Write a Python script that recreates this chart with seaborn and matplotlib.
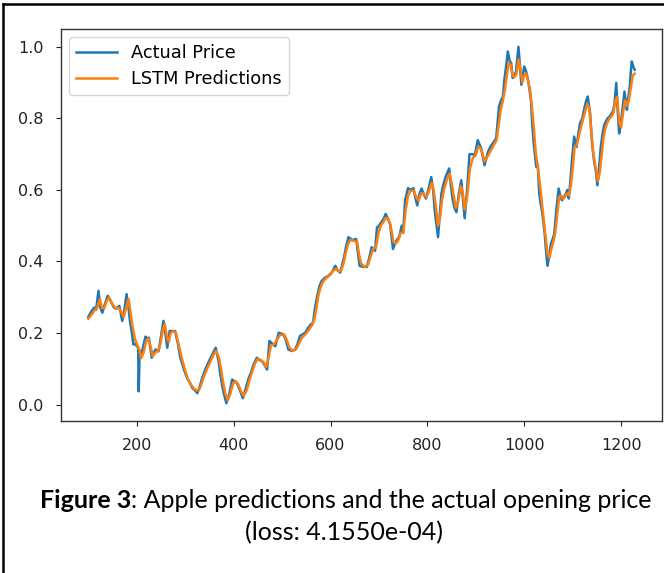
import matplotlib
matplotlib.use("Agg")
import matplotlib.pyplot as plt
import seaborn as sns
from matplotlib.lines import Line2D

# ---- data ----
actual_x = [100, 106, 112, 116, 121, 125, 129, 134, 140, 146, 153, 158, 164, 170, 174, 179, 183, 186, 190, 193,
            197, 200, 203, 204, 206, 208, 213, 218, 222, 225, 231, 235, 239, 245, 250, 255, 259, 263, 268, 274,
            279, 285, 290, 297, 304, 310, 315, 320, 325, 330, 335, 342, 349, 356, 363, 369, 372, 376, 380, 385,
            391, 397, 402, 407, 413, 419, 425, 431, 436, 441, 448, 453, 459, 464, 469, 474, 480, 486, 493, 503,
            508, 513, 520, 527, 532, 537, 548, 554, 560, 564, 568, 572, 577, 582, 589, 596, 603, 610, 615, 620,
            624, 628, 632, 637, 645, 653, 657, 660, 667, 675, 680, 685, 692, 696, 700, 706, 710, 714, 718, 723,
            729, 733, 737, 742, 747, 750, 754, 760, 766, 771, 775, 779, 784, 788, 792, 797, 802, 808, 812, 815,
            819, 822, 826, 829, 834, 838, 845, 848, 852, 856, 860, 865, 870, 873, 877, 882, 887, 893, 898, 904,
            911, 918, 925, 930, 935, 942, 945, 948, 952, 956, 959, 963, 966, 970, 973, 976, 980, 983, 988, 991,
            994, 997, 1000, 1004, 1007, 1011, 1014, 1016, 1019, 1022, 1025, 1028, 1031, 1034, 1037, 1042, 1045,
            1048, 1052, 1055, 1058, 1062, 1066, 1071, 1075, 1078, 1082, 1086, 1089, 1092, 1095, 1098, 1103, 1108,
            1112, 1115, 1120, 1124, 1128, 1131, 1136, 1140, 1144, 1148, 1151, 1155, 1158, 1162, 1165, 1168, 1172,
            1176, 1179, 1183, 1186, 1190, 1193, 1196, 1199, 1201, 1205, 1207, 1210, 1212, 1215, 1218, 1220, 1222,
            1225, 1228]
actual_price = [0.245, 0.26, 0.271, 0.265, 0.318, 0.27, 0.257, 0.28, 0.304, 0.29, 0.271, 0.268, 0.276, 0.234, 0.26,
                0.309, 0.27, 0.234, 0.2, 0.168, 0.17, 0.163, 0.16, 0.037, 0.15, 0.131, 0.16, 0.19, 0.185, 0.187,
                0.131, 0.145, 0.154, 0.149, 0.19, 0.234, 0.2, 0.159, 0.206, 0.205, 0.206, 0.17, 0.131, 0.1, 0.074,
                0.06, 0.046, 0.04, 0.032, 0.05, 0.074, 0.1, 0.121, 0.14, 0.159, 0.121, 0.09, 0.056, 0.03, 0.004,
                0.03, 0.07, 0.065, 0.06, 0.04, 0.018, 0.045, 0.074, 0.09, 0.112, 0.131, 0.125, 0.121, 0.11, 0.098,
                0.178, 0.17, 0.163, 0.201, 0.196, 0.18, 0.154, 0.15, 0.154, 0.17, 0.192, 0.201, 0.215, 0.225, 0.229,
                0.27, 0.299, 0.33, 0.346, 0.355, 0.36, 0.37, 0.388, 0.375, 0.369, 0.39, 0.412, 0.44, 0.468, 0.46,
                0.463, 0.42, 0.388, 0.385, 0.385, 0.41, 0.44, 0.43, 0.495, 0.5, 0.512, 0.52, 0.533, 0.52, 0.505,
                0.435, 0.45, 0.46, 0.47, 0.5, 0.48, 0.571, 0.605, 0.6, 0.605, 0.58, 0.557, 0.59, 0.604, 0.59, 0.576,
                0.6, 0.636, 0.6, 0.545, 0.5, 0.468, 0.54, 0.59, 0.62, 0.638, 0.66, 0.62, 0.575, 0.55, 0.538, 0.59,
                0.627, 0.58, 0.521, 0.6, 0.7, 0.7, 0.697, 0.739, 0.716, 0.669, 0.706, 0.72, 0.73, 0.744, 0.79, 0.833,
                0.85, 0.861, 0.908, 0.95, 0.987, 0.96, 0.955, 0.913, 0.92, 0.931, 1.0, 0.95, 0.894, 0.92, 0.945,
                0.93, 0.913, 0.88, 0.847, 0.795, 0.739, 0.7, 0.664, 0.67, 0.59, 0.56, 0.538, 0.482, 0.43, 0.388,
                0.42, 0.449, 0.46, 0.477, 0.54, 0.604, 0.58, 0.571, 0.58, 0.59, 0.6, 0.576, 0.62, 0.674, 0.749, 0.72,
                0.76, 0.786, 0.8, 0.828, 0.85, 0.861, 0.814, 0.73, 0.683, 0.65, 0.613, 0.67, 0.72, 0.76, 0.781, 0.79,
                0.8, 0.805, 0.81, 0.82, 0.838, 0.899, 0.82, 0.758, 0.78, 0.805, 0.85, 0.875, 0.84, 0.824, 0.86,
                0.889, 0.93, 0.959, 0.945, 0.936]

pred_x = [100, 106, 112, 118, 124, 128, 133, 138, 143, 150, 156, 162, 168, 173, 178, 183, 187, 191, 196, 200,
          205, 209, 214, 219, 224, 229, 233, 238, 244, 249, 254, 258, 262, 266, 270, 276, 281, 287, 293, 300,
          306, 312, 318, 323, 328, 333, 338, 345, 352, 358, 364, 370, 374, 378, 383, 388, 393, 399, 405, 410,
          416, 421, 427, 433, 439, 444, 450, 456, 462, 467, 472, 477, 483, 489, 496, 505, 510, 515, 522, 529,
          534, 540, 549, 556, 562, 567, 571, 575, 580, 585, 592, 599, 606, 612, 617, 622, 627, 631, 636, 641,
          648, 655, 659, 663, 670, 677, 683, 688, 694, 699, 704, 709, 714, 719, 724, 730, 735, 740, 745, 750,
          755, 760, 766, 772, 777, 782, 787, 792, 798, 803, 809, 813, 817, 822, 826, 830, 835, 840, 846, 850,
          854, 859, 864, 869, 873, 877, 882, 888, 894, 899, 905, 911, 918, 925, 931, 937, 943, 947, 951, 956,
          960, 964, 968, 972, 976, 980, 984, 988, 992, 996, 1000, 1004, 1008, 1012, 1016, 1020, 1024, 1028,
          1032, 1036, 1040, 1044, 1048, 1052, 1056, 1060, 1064, 1068, 1072, 1076, 1080, 1084, 1088, 1092, 1096,
          1100, 1104, 1108, 1112, 1116, 1121, 1125, 1130, 1134, 1138, 1142, 1147, 1152, 1156, 1160, 1164, 1168,
          1172, 1176, 1180, 1184, 1188, 1192, 1196, 1200, 1204, 1208, 1212, 1216, 1220, 1224, 1228]
lstm_pred = [0.24, 0.25, 0.262, 0.27, 0.295, 0.27, 0.27, 0.29, 0.3, 0.28, 0.27, 0.27, 0.26, 0.245, 0.27, 0.295,
             0.26, 0.22, 0.185, 0.17, 0.155, 0.13, 0.145, 0.175, 0.185, 0.16, 0.135, 0.145, 0.15, 0.17, 0.21, 0.225,
             0.19, 0.175, 0.2, 0.205, 0.2, 0.165, 0.13, 0.095, 0.07, 0.055, 0.045, 0.04, 0.04, 0.055, 0.075, 0.1,
             0.12, 0.138, 0.15, 0.13, 0.1, 0.065, 0.03, 0.012, 0.03, 0.06, 0.065, 0.055, 0.035, 0.025, 0.04, 0.07,
             0.095, 0.115, 0.128, 0.125, 0.118, 0.105, 0.13, 0.165, 0.168, 0.18, 0.195, 0.195, 0.18, 0.16, 0.15,
             0.155, 0.168, 0.185, 0.198, 0.21, 0.222, 0.24, 0.27, 0.305, 0.33, 0.345, 0.355, 0.362, 0.375, 0.38,
             0.372, 0.375, 0.395, 0.42, 0.448, 0.46, 0.458, 0.455, 0.42, 0.395, 0.385, 0.39, 0.415, 0.435, 0.44,
             0.48, 0.5, 0.51, 0.522, 0.52, 0.5, 0.455, 0.45, 0.46, 0.48, 0.48, 0.54, 0.585, 0.598, 0.598, 0.58,
             0.57, 0.59, 0.59, 0.58, 0.595, 0.62, 0.6, 0.56, 0.5, 0.52, 0.57, 0.605, 0.628, 0.645, 0.62, 0.585,
             0.55, 0.57, 0.61, 0.595, 0.545, 0.58, 0.66, 0.69, 0.695, 0.72, 0.715, 0.68, 0.695, 0.71, 0.725, 0.74,
             0.78, 0.82, 0.85, 0.88, 0.92, 0.955, 0.95, 0.92, 0.915, 0.925, 0.965, 0.94, 0.9, 0.92, 0.925, 0.905,
             0.88, 0.83, 0.77, 0.7, 0.665, 0.62, 0.57, 0.52, 0.47, 0.42, 0.41, 0.435, 0.455, 0.48, 0.53, 0.58,
             0.585, 0.575, 0.58, 0.59, 0.585, 0.61, 0.66, 0.72, 0.725, 0.745, 0.77, 0.795, 0.815, 0.84, 0.83, 0.77,
             0.71, 0.665, 0.625, 0.65, 0.7, 0.75, 0.775, 0.79, 0.8, 0.805, 0.815, 0.85, 0.86, 0.79, 0.775, 0.815,
             0.85, 0.835, 0.85, 0.885, 0.92, 0.925]

series_labels = ["Actual Price", "LSTM Predictions"]
x_ticks = [200, 400, 600, 800, 1000, 1200]
y_ticks = [0.0, 0.2, 0.4, 0.6, 0.8, 1.0]
caption_bold = "Figure 3"
caption_rest = ": Apple predictions and the actual opening price"
caption_line2 = "(loss: 4.1550e-04)"

# ---- figure ----
W, H = 664, 573
fig = plt.figure(figsize=(W / 100, H / 100), dpi=100)
ax = fig.add_axes([61 / W, 1 - 421 / H, (662 - 61) / W, (421 - 29) / H])

sns.lineplot(x=actual_x, y=actual_price, ax=ax, color="#1f77b4", linewidth=1.8,
             label=series_labels[0], estimator=None)
sns.lineplot(x=pred_x, y=lstm_pred, ax=ax, color="#ff7f0e", linewidth=1.8,
             label=series_labels[1], estimator=None)

ax.set_xticks(x_ticks)
ax.set_yticks(y_ticks)
ax.set_xticklabels([str(t) for t in x_ticks])
ax.set_yticklabels([f"{t:.1f}" for t in y_ticks])
ax.tick_params(labelsize=11.5, colors="#222222", length=3.5, pad=9)
ax.margins(x=0.05, y=0.05)
ax.set_xlabel("")
ax.set_ylabel("")
for s in ax.spines.values():
    s.set_color("#333333")
    s.set_linewidth(1.0)

ax.legend(loc="upper left", fontsize=12.8, frameon=True, borderaxespad=0.45,
          handlelength=2.3, labelspacing=0.45)

# outer frame (left and top visible)
fig.add_artist(Line2D([3.5 / W, 3.5 / W], [0, 1 - 4 / H], transform=fig.transFigure,
                      color="black", linewidth=1.8))
fig.add_artist(Line2D([3.5 / W, 1], [1 - 4 / H, 1 - 4 / H], transform=fig.transFigure,
                      color="black", linewidth=1.8))

# caption, sized so that line 1 spans about 615 px
cap_font = ["Lato", "DejaVu Sans"]
fs = 15
t1 = fig.text(0, 0, caption_bold, fontsize=fs, fontweight="bold", family=cap_font)
t2 = fig.text(0, 0, caption_rest, fontsize=fs, family=cap_font)
fig.canvas.draw()
r = fig.canvas.get_renderer()
w_tot = t1.get_window_extent(r).width + t2.get_window_extent(r).width
fs = fs * 615 / w_tot
t1.set_fontsize(fs)
t2.set_fontsize(fs)
t1.set_position((40 / W, 1 - 500 / H))
t1.set_va("center")
fig.canvas.draw()
bb = t1.get_window_extent(r)
t2.set_position((bb.x1 / W, 1 - 500 / H))
t2.set_va("center")
fig.text(344 / W, 1 - 533 / H, caption_line2, fontsize=fs,
         family=cap_font, ha="center", va="center")

fig.savefig("out.png", dpi=100)
